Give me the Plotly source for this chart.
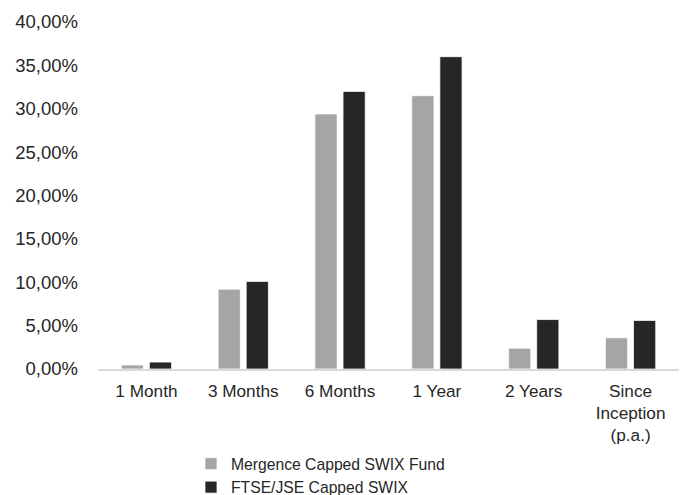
import plotly.graph_objects as go

categories = ["1 Month", "3 Months", "6 Months", "1 Year", "2 Years", "Since<br>Inception<br>(p.a.)"]
fund_name = "Mergence Capped SWIX Fund"
bench_name = "FTSE/JSE Capped SWIX"
fund_values = [0.46, 9.2, 29.4, 31.5, 2.4, 3.6]
bench_values = [0.8, 10.1, 32.0, 36.0, 5.7, 5.6]
y_ticks = [0, 5, 10, 15, 20, 25, 30, 35, 40]
y_tick_labels = [f"{v:.2f}".replace(".", ",") + "%" for v in y_ticks]

font = dict(family="Liberation Sans, Arial, sans-serif", size=16, color="#262626")

fig = go.Figure()
fig.add_trace(go.Bar(x=categories, y=fund_values, name=fund_name,
                     marker=dict(color="#A5A5A5", line=dict(color="white", width=0.75))))
fig.add_trace(go.Bar(x=categories, y=bench_values, name=bench_name,
                     marker=dict(color="#262626", line=dict(color="white", width=0.75))))

fig.update_layout(
    width=680, height=495,
    margin=dict(l=98, r=1, t=22, b=126),
    paper_bgcolor="white", plot_bgcolor="white",
    font=font,
    barmode="group", bargap=0.42, bargroupgap=0.21,
    showlegend=True,
    legend=dict(orientation="v", x=(191 - 98) / 581, xanchor="left",
                yref="container", y=1 - 447 / 495, yanchor="top",
                font=dict(size=15.7, color="#262626"), itemwidth=30,
                tracegroupgap=0, bgcolor="rgba(0,0,0,0)"),
    hovermode=False,
)
fig.update_xaxes(showgrid=False, showline=True, linecolor="#D9D9D9", linewidth=2,
                 ticks="", tickfont=dict(size=17.2), ticklabelstandoff=5)
fig.update_yaxes(range=[0, 40], tickvals=y_ticks, ticktext=y_tick_labels,
                 showgrid=False, zeroline=False, showline=False, ticks="",
                 tickfont=dict(size=18.5), ticklabelstandoff=19)

fig.write_html("out.html", config={"displayModeBar": False},
               post_script="document.body.style.margin='0';document.body.style.overflow='hidden';")
